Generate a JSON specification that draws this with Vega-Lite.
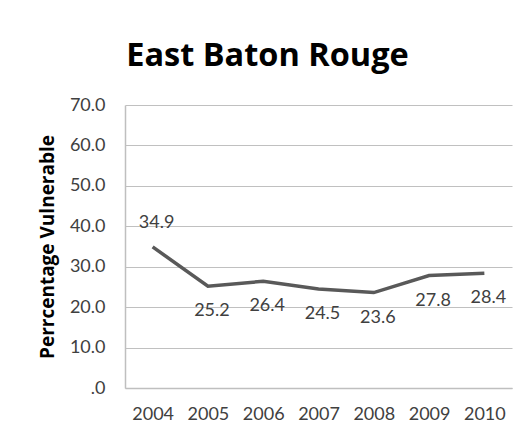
{
  "$schema": "https://vega.github.io/schema/vega-lite/v6.json",
  "width": 387,
  "height": 283,
  "autosize": "none",
  "padding": {"left": 125, "top": 105, "right": 20, "bottom": 55},
  "background": "white",
  "title": {
    "text": "East Baton Rouge",
    "font": "Open Sans",
    "fontSize": 32.5,
    "fontWeight": "bold",
    "color": "#000000",
    "anchor": "middle",
    "frame": "group",
    "dx": -51,
    "baseline": "alphabetic",
    "offset": -2
  },
  "config": {
    "view": {"stroke": null},
    "axis": {
      "labelFont": "Lato",
      "labelFontSize": 18,
      "labelColor": "#404040",
      "titleFont": "Open Sans",
      "ticks": false
    }
  },
  "data": {
    "values": [
      {"year": "2004", "value": 34.9},
      {"year": "2005", "value": 25.2},
      {"year": "2006", "value": 26.4},
      {"year": "2007", "value": 24.5},
      {"year": "2008", "value": 23.6},
      {"year": "2009", "value": 27.8},
      {"year": "2010", "value": 28.4}
    ]
  },
  "encoding": {
    "x": {
      "field": "year",
      "type": "ordinal",
      "scale": {"type": "point", "padding": 0.5},
      "axis": {
        "title": null,
        "labelAngle": 0,
        "labelPadding": 17,
        "domainColor": "#bfbfbf",
        "domainWidth": 1.5,
        "grid": false
      }
    },
    "y": {
      "field": "value",
      "type": "quantitative",
      "scale": {"domain": [0, 70], "nice": false},
      "axis": {
        "title": "Perrcentage Vulnerable",
        "titleFontSize": 19,
        "titleFontWeight": "bold",
        "titleColor": "#000000",
        "titlePadding": 12,
        "values": [0, 10, 20, 30, 40, 50, 60, 70],
        "labelExpr": "datum.value == 0 ? '.0' : format(datum.value, '.1f')",
        "labelPadding": 20,
        "domainColor": "#bfbfbf",
        "domainWidth": 1.5,
        "grid": true,
        "gridColor": "#c0c0c0",
        "gridWidth": 1.2
      }
    }
  },
  "layer": [
    {
      "mark": {"type": "line", "color": "#595959", "strokeWidth": 3.5}
    },
    {
      "transform": [{"filter": "datum.year == '2004'"}],
      "mark": {"type": "text", "font": "Lato", "fontSize": 18, "color": "#404040", "dy": -24, "dx": 4},
      "encoding": {"text": {"field": "value", "type": "quantitative", "format": ".1f"}}
    },
    {
      "transform": [{"filter": "datum.year != '2004'"}],
      "mark": {"type": "text", "font": "Lato", "fontSize": 18, "color": "#404040", "dy": 25, "dx": 4},
      "encoding": {"text": {"field": "value", "type": "quantitative", "format": ".1f"}}
    }
  ]
}
